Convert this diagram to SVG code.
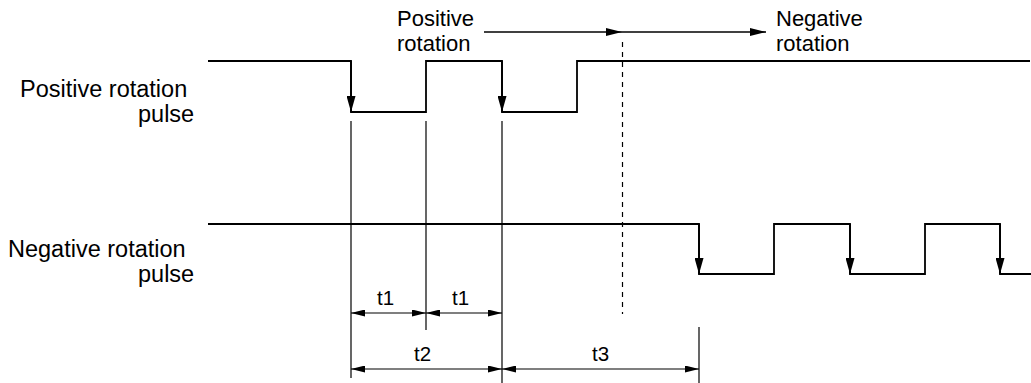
<svg xmlns="http://www.w3.org/2000/svg" width="1031" height="383" viewBox="0 0 1031 383">
<style>
  text { font-family: "Liberation Sans", Arial, sans-serif; fill: #000; }
  .lbl { font-size: 23.5px; }
  .top { font-size: 22px; }
  .tl { font-size: 20.5px; }
  .sig { fill: none; stroke: #000; stroke-width: 1.8; }
  .edge { fill: none; stroke: #000; stroke-width: 1.8; marker-end: url(#ah); }
  .ext { fill: none; stroke: #000; stroke-width: 1.2; }
  .dim { fill: none; stroke: #000; stroke-width: 1.2; marker-start: url(#dh); marker-end: url(#dh); }
  .flow { fill: none; stroke: #000; stroke-width: 1.5; marker-end: url(#fh); }
  .dash { fill: none; stroke: #000; stroke-width: 1.2; stroke-dasharray: 5 5; }
</style>
<defs>
  <marker id="ah" viewBox="0 0 16 9" refX="16" refY="4.5" markerWidth="16" markerHeight="9" markerUnits="userSpaceOnUse" orient="auto">
    <path d="M0,0 L16,4.5 L0,9 z" fill="#000"/>
  </marker>
  <marker id="dh" viewBox="0 0 14 7" refX="14" refY="3.5" markerWidth="14" markerHeight="7" markerUnits="userSpaceOnUse" orient="auto-start-reverse">
    <path d="M0,0 L14,3.5 L0,7 z" fill="#000"/>
  </marker>
  <marker id="fh" viewBox="0 0 16 8" refX="16" refY="4" markerWidth="16" markerHeight="8" markerUnits="userSpaceOnUse" orient="auto">
    <path d="M0,0 L16,4 L0,8 z" fill="#000"/>
  </marker>
</defs>

<g id="label-positive-pulse">
  <text class="lbl" x="20" y="97">Positive rotation</text>
  <text class="lbl" x="138" y="122">pulse</text>
</g>
<g id="label-negative-pulse">
  <text class="lbl" x="8" y="257">Negative rotation</text>
  <text class="lbl" x="138" y="282">pulse</text>
</g>
<g id="label-positive-rotation">
  <text class="top" x="397" y="26">Positive</text>
  <text class="top" x="397" y="51">rotation</text>
</g>
<g id="label-negative-rotation">
  <text class="top" x="776" y="26">Negative</text>
  <text class="top" x="776" y="51">rotation</text>
</g>

<g id="positive-pulse">
  <path class="sig" d="M208,61 H351 V112 H426 V61 H502 V112 H577 V61 H1030"/>
  <line class="edge" x1="351" y1="61" x2="351" y2="112"/>
  <line class="edge" x1="502" y1="61" x2="502" y2="112"/>
</g>
<g id="negative-pulse">
  <path class="sig" d="M208,224 H699 V274 H774 V224 H850 V274 H925 V224 H1000 V274 H1031"/>
  <line class="edge" x1="699" y1="224" x2="699" y2="274"/>
  <line class="edge" x1="850" y1="224" x2="850" y2="274"/>
  <line class="edge" x1="1000" y1="224" x2="1000" y2="274"/>
</g>

<g id="switch-marker">
  <line class="dash" x1="622.5" y1="42" x2="622.5" y2="314"/>
</g>

<g id="timing-labels">
  <text class="tl" x="377" y="305">t1</text>
  <text class="tl" x="452" y="305">t1</text>
  <text class="tl" x="414" y="361">t2</text>
  <text class="tl" x="592" y="361">t3</text>
</g>

<g id="connectors">
  <line class="flow" x1="484" y1="32" x2="622" y2="32"/>
  <line class="flow" x1="622" y1="32" x2="766" y2="32"/>
  <line class="ext" x1="351" y1="121" x2="351" y2="378"/>
  <line class="ext" x1="426" y1="121" x2="426" y2="330"/>
  <line class="ext" x1="502" y1="121" x2="502" y2="383"/>
  <line class="ext" x1="699" y1="327" x2="699" y2="383"/>
  <line class="dim" x1="351" y1="313" x2="426" y2="313"/>
  <line class="dim" x1="426" y1="313" x2="502" y2="313"/>
  <line class="dim" x1="351" y1="369" x2="502" y2="369"/>
  <line class="dim" x1="502" y1="369" x2="699" y2="369"/>
</g>
</svg>
